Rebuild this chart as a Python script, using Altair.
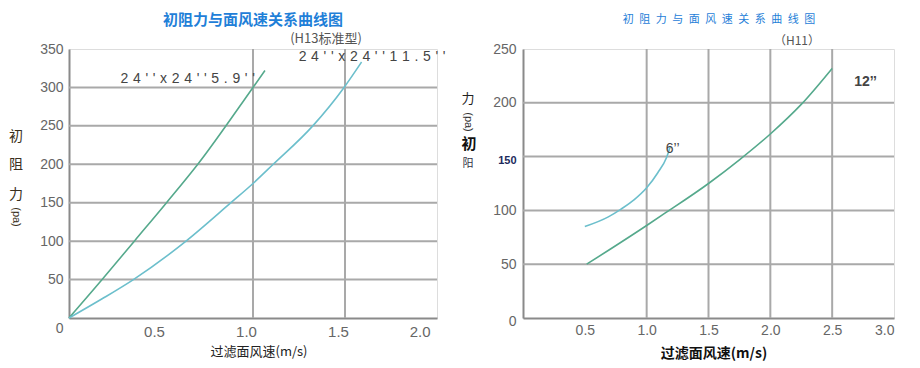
import altair as alt
import pandas as pd

# ---------------- data ----------------
# Left panel (H13 standard)
l59_x = [0, 0.18, 0.355, 0.53, 0.70, 1.0, 1.065]
l59_y = [0, 50, 100, 150, 200, 300, 322]
l115_x = [0, 0.18, 0.35, 0.636, 0.88, 1.0, 1.11, 1.325, 1.495, 1.59]
l115_y = [0, 25, 50, 100, 150, 175, 200, 250, 300, 333]
l_labels = ["2\u20044\u2004'\u2004'\u2004x\u20042\u20044\u2004'\u2004'\u20045\u2004.\u20049\u2004'\u2004'",
            "2\u20044\u2004'\u2004'\u2004x\u20042\u20044\u2004'\u2004'\u20041\u20041\u2004.\u20045\u2004'\u2004'"]
l_label_x = [0.645, 1.647]
l_label_y = [311, 339.6]
l_xticks = [0.5, 1.0, 1.5, 2.0]
l_yticks = [0, 50, 100, 150, 200, 250, 300, 350]
l_xgrid = [1.0, 1.5]
l_ygrid = [50, 100, 150, 200, 250, 300]

# Right panel (H11)
r6_x = [0.50, 0.69, 0.79, 0.90, 1.0, 1.09, 1.16, 1.19]
r6_y = [85, 94, 101, 110, 121, 135, 149, 159]
r12_x = [0.515, 1.0, 1.13, 1.5, 1.75, 2.0, 2.25, 2.5]
r12_y = [50, 86, 96, 125, 147, 171, 198.5, 232]
r_labels = ["6\u2019\u2019", "12\u2019\u2019"]
r_label_x = [1.21, 2.77]
r_label_y = [157, 219]
r_xticks = [0.5, 1.0, 1.5, 2.0, 2.5, 3.0]
r_yticks = [0, 50, 100, 150, 200, 250]
r_xgrid = [1.0, 1.5, 2.0, 2.5]
r_ygrid = [50, 100, 150, 200]

title_text = "初阻力与面风速关系曲线图"
x_title = "过滤面风速(m/s)"

CJK = "Noto Sans CJK SC"
NUM = "Liberation Sans"
GREEN = "#55a98c"
CYAN = "#6cbfcc"
GRID = "#a9a9a9"
TITLE_BLUE = "#1f80d8"

W_L, W_R, H = 368, 371, 269


def xy_df(xs, ys):
    return pd.DataFrame({"x": xs, "y": ys})


def panel(xdom, ydom, xticks, yticks, xgrid, ygrid, series, labels, width,
          x_label_pad, x_label_off, y_label_pad, y_label_offset, y_label_weight,
          y_label_size, y_label_color, x_label_size, extra, y_label_expr=None):
    xs = alt.Scale(domain=xdom, nice=False, zero=True)
    ys = alt.Scale(domain=ydom, nice=False, zero=True)
    xax = alt.Axis(values=xticks, format=".1f", grid=False, ticks=False,
                   labelPadding=x_label_pad, labelOffset=x_label_off,
                   domainColor="#8a8a8a", domainWidth=2, labelFont=NUM,
                   labelFontSize=x_label_size, labelColor="#666", title=None)
    ykw = dict(values=yticks, format="d", grid=False, ticks=False,
               labelPadding=y_label_pad, labelOffset=y_label_offset,
               labelFontWeight=y_label_weight, labelFontSize=y_label_size,
               labelColor=y_label_color,
               domainColor="#8a8a8a", domainWidth=2, labelFont=NUM,
               title=None)
    if y_label_expr:
        ykw["labelExpr"] = y_label_expr
    yax = alt.Axis(**ykw)

    def X(f):
        return alt.X(f, type="quantitative", scale=xs, axis=xax)

    def Y(f):
        return alt.Y(f, type="quantitative", scale=ys, axis=yax)

    layers = []
    layers.append(alt.Chart(pd.DataFrame({"gx": xgrid})).mark_rule(
        color=GRID, strokeWidth=2).encode(x=X("gx")))
    layers.append(alt.Chart(pd.DataFrame({"gy": ygrid})).mark_rule(
        color=GRID, strokeWidth=2).encode(y=Y("gy")))
    for (sx, sy, col) in series:
        layers.append(alt.Chart(xy_df(sx, sy)).mark_line(
            color=col, strokeWidth=1.6, interpolate="monotone").encode(
            x=X("x"), y=Y("y")))
    for (txt, tx, ty, kw) in labels:
        layers.append(alt.Chart(pd.DataFrame({"t": [txt], "x": [tx], "y": [ty]}))
                      .mark_text(**kw).encode(x=X("x"), y=Y("y"), text="t:N"))
    for (txt, px, py, kw) in extra:
        layers.append(alt.Chart(pd.DataFrame({"t": [txt]})).mark_text(**kw).encode(
            x=alt.value(px), y=alt.value(py), text="t:N"))
    return alt.layer(*layers).properties(width=width, height=H)


left = panel(
    [0, 2], [0, 350], l_xticks, l_yticks, l_xgrid, l_ygrid,
    [(l59_x, l59_y, GREEN), (l115_x, l115_y, CYAN)],
    [(l_labels[0], l_label_x[0], l_label_y[0], dict(font=NUM, fontSize=14, color="#444")),
     (l_labels[1], l_label_x[1], l_label_y[1], dict(font=NUM, fontSize=14, color="#444"))],
    W_L, 6, -7, 6,
    {"condition": {"test": "datum.value == 0", "value": 10}, "value": 0},
    "normal", 14, "#666", 15,
    [
        (title_text, 184, -29, dict(font=CJK, fontSize=15, fontWeight="bold", color=TITLE_BLUE)),
        ("(H13标准型)", 257, -10, dict(font=CJK, fontSize=13, color="#555")),
        ("初", -53, 88, dict(font=CJK, fontSize=14, color="#3a3020")),
        ("阻", -53, 116, dict(font=CJK, fontSize=14, color="#3a3020")),
        ("力", -53, 146, dict(font=CJK, fontSize=14, color="#3a3020")),
        ("(pa)", -53, 168, dict(font=NUM, fontSize=11, color="#3a3020", angle=90)),
        (x_title, 190, 303, dict(font=CJK, fontSize=13, color="#222")),
    ],
)

right = panel(
    [0, 3], [0, 250], r_xticks, r_yticks, r_xgrid, r_ygrid,
    [(r6_x, r6_y, CYAN), (r12_x, r12_y, GREEN)],
    [(r_labels[0], r_label_x[0], r_label_y[0], dict(font=NUM, fontSize=14, color="#444")),
     (r_labels[1], r_label_x[1], r_label_y[1], dict(font=NUM, fontSize=14, fontWeight="bold", color="#444"))],
    W_R, 5, 0, 7,
    {"condition": [{"test": "datum.value == 0", "value": 3},
                   {"test": "datum.value == 150", "value": 4}], "value": 0},
    {"condition": {"test": "datum.value == 150", "value": "bold"}, "value": "normal"},
    {"condition": {"test": "datum.value == 150", "value": 11}, "value": 14},
    {"condition": {"test": "datum.value == 150", "value": "#1c2a5c"}, "value": "#666"},
    14,
    [
        ("\u2002".join(title_text), 196, -29, dict(font=CJK, fontSize=11, color=TITLE_BLUE)),
        ("（H11）", 274, -8, dict(font=CJK, fontSize=12, color="#555")),
        ("力", -55, 50, dict(font=CJK, fontSize=13, color="#222")),
        ("(pa)", -55, 73, dict(font=NUM, fontSize=11, color="#333", angle=90)),
        ("初", -54, 95, dict(font=CJK, fontSize=15, fontWeight="bold", color="#111")),
        ("阳", -55, 115, dict(font=CJK, fontSize=11, color="#334")),
        (x_title, 191, 305, dict(font=CJK, fontSize=14, fontWeight="bold", color="#111")),
    ],
    y_label_expr="datum.value == 150 ? '150\u2002' : datum.label",
)

chart = alt.hconcat(left, right, spacing=86, bounds="flush").properties(
    padding={"left": 0, "top": 4, "right": 5, "bottom": 5}
).configure_view(stroke="#a9a9a9", strokeWidth=2).configure(background="white")

chart.save("out.html", embed_options={"renderer": "svg", "actions": False})
